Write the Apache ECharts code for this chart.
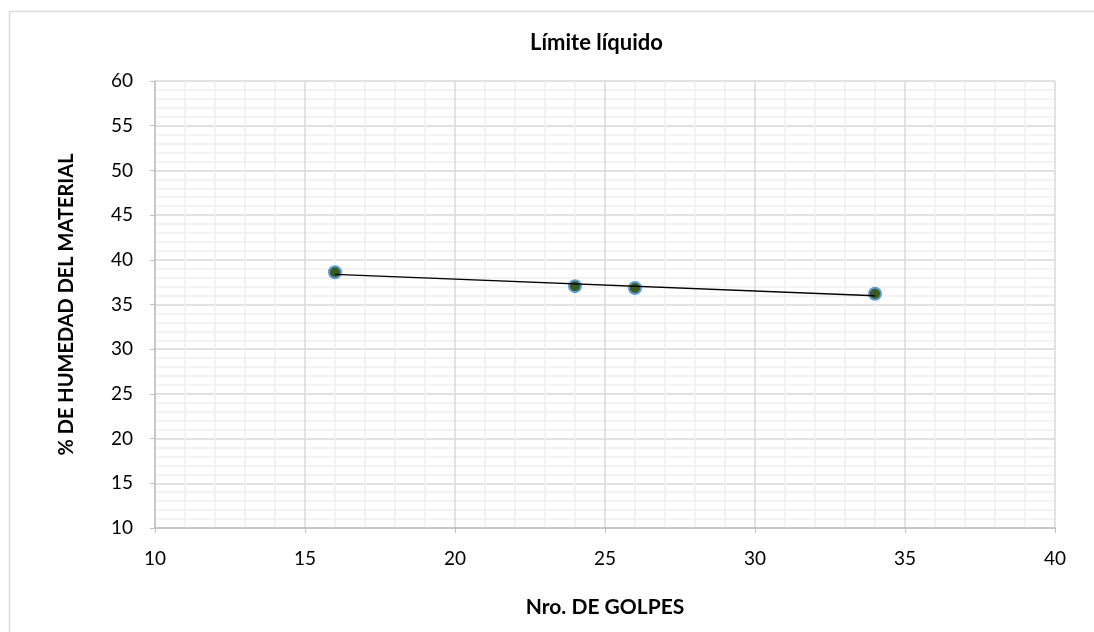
<!DOCTYPE html>
<html><head><meta charset="utf-8">
<script src="https://cdn.jsdelivr.net/npm/echarts@6/dist/echarts.min.js"></script>
<style>html,body{margin:0;padding:0;background:#fff}#c{width:1094px;height:632px}</style>
</head><body><div id="c"></div>
<script>
const golpes = [16, 24, 26, 34];
const humedad = [38.6, 37.05, 36.85, 36.2];
const trendX = [16, 34];
const trendY = [38.37, 35.98];
const titleText = 'Límite líquido';
const xTitle = 'Nro. DE GOLPES';
const yTitle = '% DE HUMEDAD DEL MATERIAL';

const font = 'Lato, "Open Sans", sans-serif';
const chart = echarts.init(document.getElementById('c'));
chart.setOption({
  animation: false,
  backgroundColor: '#fff',
  graphic: [
    {type:'rect', left:7, top:9, shape:{width:1200, height:700}, style:{fill:'none', stroke:'#d9d9d9', lineWidth:1.5}, silent:true, z:-1},
    {type:'text', left:530, top:32, style:{text:titleText, fontFamily:font, fontWeight:'bold', fontSize:22, fill:'#000'}}
  ],
  grid: {left:155, right:39, top:81, bottom:104},
  xAxis: {type:'value', min:10, max:40, interval:5,
    name: xTitle, nameLocation:'middle', nameGap:69,
    nameTextStyle:{fontFamily:font, fontWeight:'bold', fontSize:21, color:'#000'},
    axisLine:{show:true, onZero:false, lineStyle:{color:'#bfbfbf', width:1.5}},
    axisTick:{show:true, length:5, lineStyle:{color:'#bfbfbf'}},
    axisLabel:{fontFamily:font, fontSize:19, color:'#000', margin:21},
    splitLine:{show:true, lineStyle:{color:'#d9d9d9', width:1.5}},
    minorTick:{show:false, splitNumber:5},
    minorSplitLine:{show:true, lineStyle:{color:'#f0f0f0', width:1.5}}
  },
  yAxis: {type:'value', min:10, max:60, interval:5,
    name: yTitle, nameLocation:'middle', nameGap:78, nameRotate:90,
    nameTextStyle:{fontFamily:font, fontWeight:'bold', fontSize:20, color:'#000'},
    axisLine:{show:true, onZero:false, lineStyle:{color:'#bfbfbf', width:1.5}},
    axisTick:{show:true, length:5, lineStyle:{color:'#bfbfbf'}},
    axisLabel:{fontFamily:font, fontSize:19, color:'#000', margin:22},
    splitLine:{show:true, lineStyle:{color:'#d9d9d9', width:1.5}},
    minorTick:{show:false, splitNumber:5},
    minorSplitLine:{show:true, lineStyle:{color:'#f0f0f0', width:1.5}}
  },
  series: [
    {type:'line', data: trendX.map((x,i)=>[x, trendY[i]]), symbol:'none',
     lineStyle:{color:'#000', width:1.3}, z:3},
    {type:'scatter', data: golpes.map((x,i)=>[x, humedad[i]]), symbolSize:12,
     itemStyle:{color:'#3a5a1e', borderColor:'#5b9bd5', borderWidth:2, opacity:1}, z:2}
  ]
});
</script></body></html>
